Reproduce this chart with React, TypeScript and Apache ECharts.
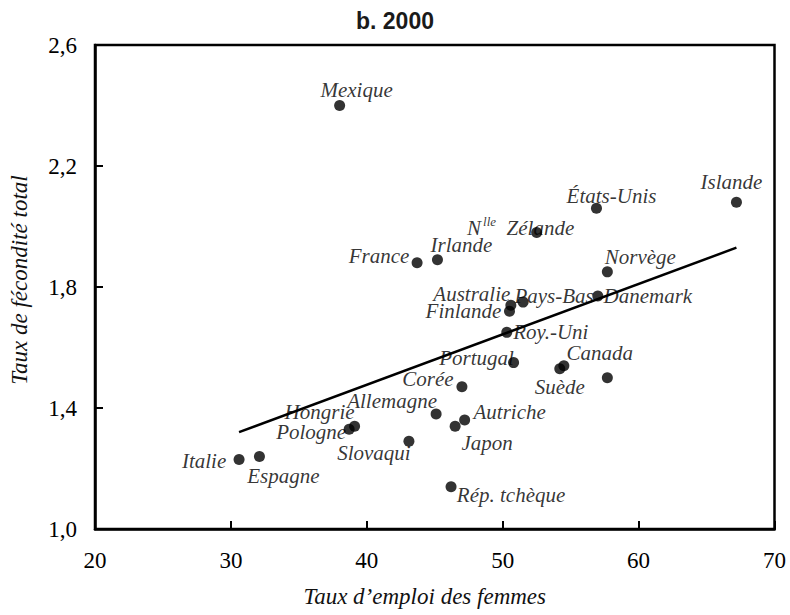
import React, { useEffect, useRef } from "react";
import * as echarts from "echarts";

const countries = [
  "Mexique", "Islande", "États-Unis", "NZ", "France", "Irlande", "Norvège",
  "Danemark", "Pays-Bas", "Australie", "Finlande", "Roy.-Uni", "Portugal",
  "Canada", "Suède", "", "Corée", "Allemagne", "Autriche", "Japon", "Hongrie",
  "Pologne", "Slovaqui", "Italie", "Espagne", "Rép. tchèque",
];
const emploi = [
  38.0, 67.2, 56.9, 52.5, 43.7, 45.2, 57.7, 57.0, 51.5, 50.6, 50.5, 50.3, 50.8,
  54.5, 54.2, 57.7, 47.0, 45.1, 47.2, 46.5, 39.1, 38.7, 43.1, 30.6, 32.1, 46.2,
];
const fecondite = [
  2.40, 2.08, 2.06, 1.98, 1.88, 1.89, 1.85, 1.77, 1.75, 1.74, 1.72, 1.65, 1.55,
  1.54, 1.53, 1.50, 1.47, 1.38, 1.36, 1.34, 1.34, 1.33, 1.29, 1.23, 1.24, 1.14,
];
const trendX = [30.6, 67.2];
const trendY = [1.32, 1.93];

// label offsets (px) from the dot centre
const labelOffsets: [number, number][] = [
  [17, -16], [-5, -20], [15, -12], [-16, -5], [-38, -7], [24, -15], [33, -15],
  [50, 0], [31, -6], [-39, -11], [-46, 0], [44, 0], [-37, -5], [36, -13],
  [0, 18], [0, 0], [-34, -8], [-44, -13], [45, -8], [32, 17], [-35, -14],
  [-38, 3], [-35, 12], [-35, 2], [24, 20], [60, 8],
];

const serif = "'Liberation Serif', 'Times New Roman', serif";
const sans = "'Liberation Sans', Arial, sans-serif";

export default function App() {
  const ref = useRef<HTMLDivElement>(null);
  useEffect(() => {
    if (!ref.current) return;
    const chart = echarts.init(ref.current, null, { renderer: "svg" });
    const scatterData = countries.map((c, i) => ({
      value: [emploi[i], fecondite[i]],
      name: c,
      label: {
        show: c !== "",
        position: "inside",
        offset: labelOffsets[i],
        formatter: c === "NZ" ? "{a|N}{sup|lle}{a|  Zélande}" : c,
      },
    }));
    chart.setOption({
      animation: false,
      backgroundColor: "#fff",
      title: {
        text: "b. 2000",
        left: "center",
        top: 4,
        textStyle: {
          fontFamily: sans,
          fontWeight: "bold",
          fontSize: 23,
          color: "#1a1a1a",
        },
      },
      grid: {
        left: 91.5,
        right: 15.5,
        top: 45,
        bottom: 86,
        show: true,
        borderColor: "#000",
        borderWidth: 2.5,
      },
      xAxis: {
        type: "value",
        min: 20,
        max: 70,
        interval: 10,
        name: "Taux d’emploi des femmes",
        nameLocation: "middle",
        nameGap: 56,
        nameTextStyle: {
          fontFamily: serif,
          fontStyle: "italic",
          fontSize: 23,
          color: "#111",
          padding: [0, 20, 0, 0],
        },
        axisLine: { show: true, lineStyle: { color: "#000", width: 2.5 } },
        axisTick: { show: true, inside: true, length: 8, lineStyle: { color: "#000", width: 2 } },
        axisLabel: { fontFamily: serif, fontSize: 23, color: "#000", margin: 20 },
        splitLine: { show: false },
      },
      yAxis: {
        type: "value",
        min: 1.0,
        max: 2.6,
        interval: 0.4,
        name: "Taux de fécondité total",
        nameLocation: "middle",
        nameGap: 64,
        nameTextStyle: {
          fontFamily: serif,
          fontStyle: "italic",
          fontSize: 23,
          color: "#111",
          padding: [0, 0, 0, 14],
        },
        axisLine: { show: true, lineStyle: { color: "#000", width: 2.5 } },
        axisTick: { show: true, inside: true, length: 8, lineStyle: { color: "#000", width: 2 } },
        axisLabel: {
          fontFamily: serif,
          fontSize: 23,
          color: "#000",
          margin: 18,
          formatter: (v: number) => v.toFixed(1).replace(".", ","),
        },
        splitLine: { show: false },
      },
      series: [
        {
          type: "line",
          data: trendX.map((x, i) => [x, trendY[i]]),
          showSymbol: false,
          symbol: "none",
          lineStyle: { color: "#000", width: 2.5 },
          silent: true,
          z: 2,
        },
        {
          type: "scatter",
          data: scatterData,
          symbolSize: 11,
          itemStyle: { color: "#000" },
          z: 3,
          label: {
            fontFamily: serif,
            fontStyle: "italic",
            fontSize: 21,
            color: "#000",
            align: "center",
            verticalAlign: "middle",
            rich: {
              a: { fontFamily: serif, fontStyle: "italic", fontSize: 21, color: "#000" },
              sup: {
                fontFamily: serif,
                fontStyle: "italic",
                fontSize: 13,
                color: "#000",
                verticalAlign: "top",
                padding: [0, 0, 12, 2],
              },
            },
          },
        },
      ],
    });
    return () => chart.dispose();
  }, []);
  return (
    <div
      ref={ref}
      style={{ position: "fixed", left: 0, top: 0, width: 790, height: 615, background: "#fff" }}
    />
  );
}
